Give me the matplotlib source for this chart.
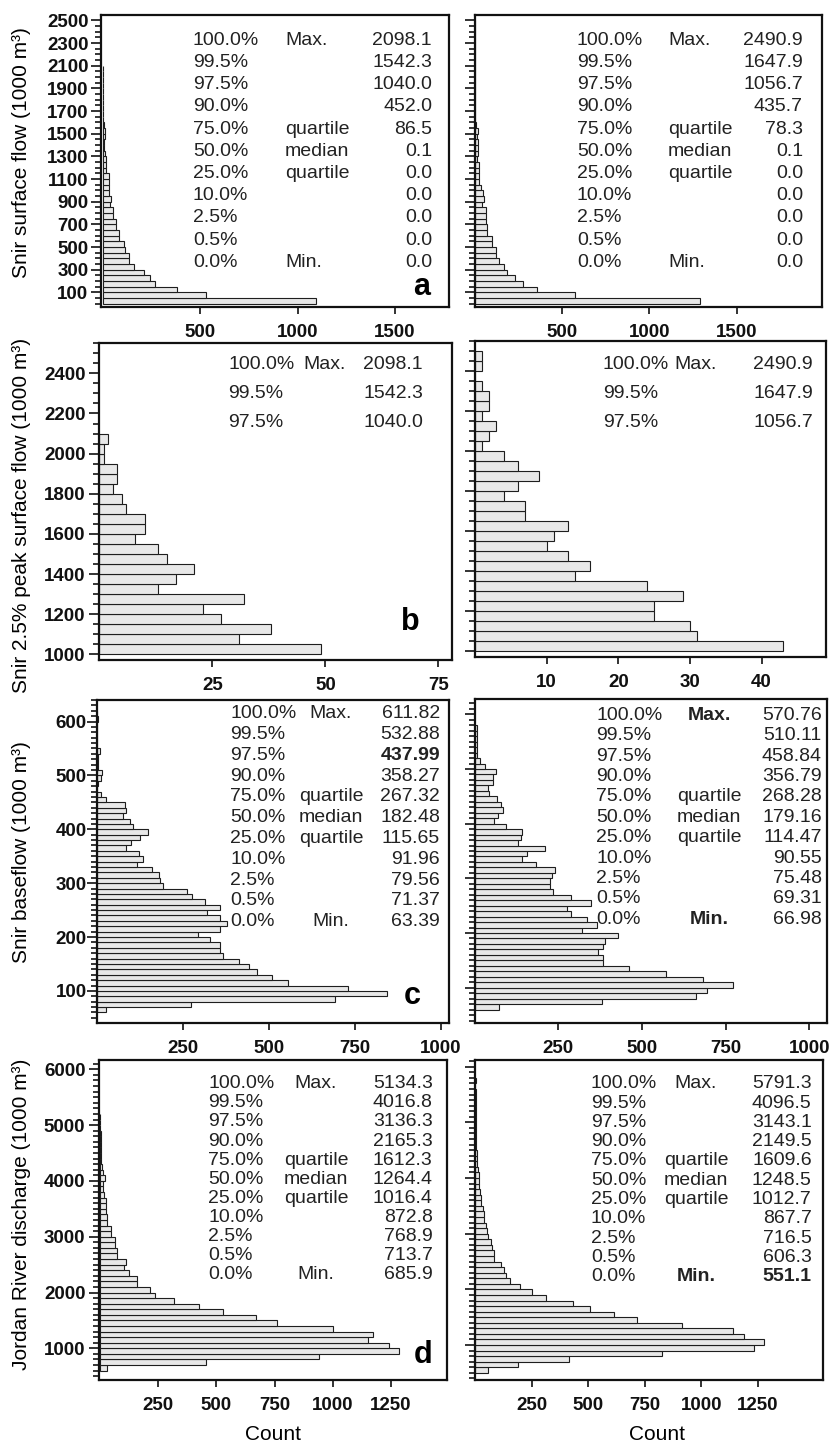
import matplotlib
matplotlib.use('Agg')
import matplotlib.pyplot as plt
from matplotlib.ticker import FixedLocator, MultipleLocator

plt.rcParams['font.family'] = ['Liberation Sans', 'DejaVu Sans']
plt.rcParams['font.weight'] = 'bold'

W, H = 834, 1443

# ---- histogram counts ----
# a: Snir surface flow, bins of 50 from 0
a_left_counts = [1095, 530, 380, 270, 245, 211, 162, 138, 136, 117,
                 108, 86, 86, 69, 69, 52, 52, 40, 44, 35,
                 33, 33, 33, 20, 18, 18, 13, 8, 8, 12,
                 12, 6, 4, 3, 3, 2, 2, 2, 1, 1,
                 1, 1]
a_right_counts = [1290, 572, 357, 274, 229, 183, 168, 137, 118, 118,
                  99, 95, 70, 70, 65, 61, 61, 42, 51, 45,
                  32, 23, 23, 23, 23, 13, 18, 15, 15, 12,
                  15, 3, 2, 2, 1, 1, 1, 1, 1, 0,
                  1, 0, 1, 0, 0, 1, 0, 0, 0, 1]
# b: Snir 2.5% peak surface flow, bins of 50 from 1000
b_left_counts = [49, 31, 38, 27, 23, 32, 13, 17, 21, 15,
                 13, 8, 10, 10, 6, 5, 3, 4, 4, 1,
                 1, 2]
b_right_counts = [43, 31, 30, 25, 25, 29, 24, 14, 16, 13,
                  10, 11, 13, 7, 7, 4, 6, 9, 6, 4,
                  1, 2, 3, 1, 2, 2, 1, 0, 1, 1]
# c: Snir baseflow, bins of 10 from 60
c_left_counts = [28, 274, 692, 844, 730, 556, 510, 467, 443, 415,
                 366, 358, 358, 329, 296, 358, 378, 358, 321, 358,
                 316, 278, 264, 194, 184, 180, 160, 117, 136, 122,
                 87, 99, 126, 150, 107, 97, 78, 87, 84, 29,
                 13, 2, 5, 12, 15, 5, 5, 5, 10, 2,
                 2, 1, 1, 2, 5, 2]
c_right_counts = [74, 380, 661, 695, 773, 681, 571, 461, 385, 385,
                  370, 385, 390, 429, 322, 365, 337, 288, 277, 348,
                  288, 235, 225, 225, 230, 240, 183, 143, 157, 210,
                  129, 138, 143, 93, 59, 69, 86, 79, 66, 44,
                  39, 55, 55, 65, 31, 16, 6, 7, 7, 6,
                  6, 6]
# d: Jordan River discharge, bins of 100 (left from 600, right from 500)
d_left_counts = [28, 457, 941, 1284, 1241, 1149, 1171, 999, 758, 669,
                 529, 425, 319, 236, 216, 158, 158, 124, 101, 111,
                 75, 75, 64, 64, 47, 47, 32, 32, 24, 25,
                 24, 18, 14, 14, 21, 11, 9, 6, 5, 4,
                 4, 3, 3, 2, 2, 1]
d_right_counts = [54, 190, 415, 824, 1234, 1278, 1190, 1141, 912, 717,
                  614, 508, 430, 313, 249, 198, 154, 135, 128, 113,
                  83, 83, 73, 69, 54, 51, 47, 39, 39, 32,
                  24, 24, 20, 17, 17, 17, 13, 8, 6, 5,
                  4, 4, 3, 3, 3, 2, 2, 2, 1, 1,
                  1, 0, 1]

# ---- quantile tables ----
pct_labels = ['100.0%', '99.5%', '97.5%', '90.0%', '75.0%', '50.0%',
              '25.0%', '10.0%', '2.5%', '0.5%', '0.0%']
stat_names = ['Max.', '', '', '', 'quartile', 'median', 'quartile',
              '', '', '', 'Min.']
a_left_q = ['2098.1', '1542.3', '1040.0', '452.0', '86.5', '0.1',
            '0.0', '0.0', '0.0', '0.0', '0.0']
a_right_q = ['2490.9', '1647.9', '1056.7', '435.7', '78.3', '0.1',
             '0.0', '0.0', '0.0', '0.0', '0.0']
c_left_q = ['611.82', '532.88', '437.99', '358.27', '267.32', '182.48',
            '115.65', '91.96', '79.56', '71.37', '63.39']
c_right_q = ['570.76', '510.11', '458.84', '356.79', '268.28', '179.16',
             '114.47', '90.55', '75.48', '69.31', '66.98']
d_left_q = ['5134.3', '4016.8', '3136.3', '2165.3', '1612.3', '1264.4',
            '1016.4', '872.8', '768.9', '713.7', '685.9']
d_right_q = ['5791.3', '4096.5', '3143.1', '2149.5', '1609.6', '1248.5',
             '1012.7', '867.7', '716.5', '606.3', '551.1']

ylabels = ['Snir surface flow (1000 m³)',
           'Snir 2.5% peak surface flow (1000 m³)',
           'Snir baseflow (1000 m³)',
           'Jordan River discharge (1000 m³)']

fig = plt.figure(figsize=(8.34, 14.43), dpi=100)


def px_axes(x0, y0, x1, y1):
    return fig.add_axes([x0 / W, 1 - y1 / H, (x1 - x0) / W, (y1 - y0) / H])


def ftext(x, y, s, **kw):
    kw.setdefault('fontweight', 'normal')
    fig.text(x / W, 1 - y / H, s, **kw)


def draw_hist(box, counts, start, width, xlim, ylim, xticks, ymajor, yminor,
              labels=True, ypad=2):
    ax = px_axes(*box)
    edges = [start + i * width for i in range(len(counts))]
    ax.barh(edges, counts, height=width, align='edge', color='#e8e8e8',
            edgecolor='#1e1e1e', linewidth=0.8)
    ax.set_xlim(*xlim)
    ax.set_ylim(*ylim)
    ax.xaxis.set_major_locator(FixedLocator(xticks))
    ax.yaxis.set_major_locator(FixedLocator(ymajor))
    ax.yaxis.set_minor_locator(MultipleLocator(yminor))
    ax.tick_params(axis='both', which='major', direction='out', width=1.2,
                   labelsize=13.5, colors='#111111')
    ax.tick_params(axis='x', length=4.8, pad=7.5)
    ax.tick_params(axis='y', which='major', length=7, pad=ypad)
    ax.tick_params(axis='y', which='minor', length=4, width=1.1)
    ax.tick_params(labelleft=labels)
    for s in ax.spines.values():
        s.set_linewidth(1.6)
        s.set_color('#111111')
    return ax


# row a
draw_hist((101, 15, 449, 306.7), a_left_counts, 0, 50, (-8, 1777), (-27, 2548),
          [500, 1000, 1500], list(range(100, 2600, 200)), 50, True, 2)
draw_hist((475, 15, 822, 306.7), a_right_counts, 0, 50, (0, 1990), (-27, 2548),
          [500, 1000, 1500], list(range(100, 2600, 200)), 50, False)
# row b
draw_hist((99.3, 343, 452, 660), b_left_counts, 1000, 50, (0, 78), (972, 2551),
          [25, 50, 75], list(range(1000, 2500, 200)), 50, True, 3)
draw_hist((475, 341, 826, 657), b_right_counts, 1000, 50, (0, 49), (972, 2551),
          [10, 20, 30, 40], list(range(1000, 2500, 200)), 50, False)
# row c
draw_hist((96.5, 700, 449, 1022.7), c_left_counts, 60, 10, (0, 1023), (41, 640),
          [250, 500, 750, 1000], list(range(100, 700, 100)), 10, True, 0)
draw_hist((474.6, 699, 827, 1022.7), c_right_counts, 60, 10, (0, 1053), (36, 628),
          [250, 500, 750, 1000], list(range(100, 700, 100)), 10, False)
# row d
draw_hist((99.3, 1060, 447, 1380), d_left_counts, 600, 100, (-3, 1490), (432, 6167),
          [250, 500, 750, 1000, 1250], list(range(1000, 7000, 1000)), 100, True, 3)
draw_hist((475, 1060, 823, 1380), d_right_counts, 500, 100, (-2, 1538), (372, 6120),
          [250, 500, 750, 1000, 1250], list(range(1000, 7000, 1000)), 100, False)

# y axis titles
for yc, lab in zip([153, 515, 852, 1214], ylabels):
    ftext(22, yc, lab, rotation=90, ha='center', va='center', fontsize=15)

# quantile tables: (values, x pct, x name, name align, x value, first row, step, rows, bold cells)
tables = [
    (a_left_q, 193, 285, 'left', 432, 38.3, 22.2, 11, set()),
    (a_right_q, 577, 668, 'left', 803, 38.3, 22.2, 11, set()),
    (a_left_q, 228, 303, 'left', 423, 362.5, 29, 3, set()),
    (a_right_q, 603, 674, 'left', 813, 362.5, 29, 3, set()),
    (c_left_q, 230, 331, 'center', 440, 711.7, 20.8, 11, {('v', 2)}),
    (c_right_q, 596, 709, 'center', 821.7, 713.3, 20.4, 11, {('n', 0), ('n', 10)}),
    (d_left_q, 208, 316, 'center', 432.7, 1081.7, 19.1, 11, set()),
    (d_right_q, 591, 696, 'center', 811.7, 1081.7, 19.3, 11, {('n', 10), ('v', 10)}),
]
for vals, xp, xn, nal, xv, y0, dy, nrows, bold in tables:
    for i in range(nrows):
        yb = y0 + i * dy + 6.5
        ftext(xp, yb, pct_labels[i], ha='left', va='baseline', fontsize=14,
              color='#222222')
        if stat_names[i]:
            ftext(xn, yb, stat_names[i], ha=nal, va='baseline', fontsize=14,
                  color='#222222',
                  fontweight='bold' if ('n', i) in bold else 'normal')
        ftext(xv, yb, vals[i], ha='right', va='baseline', fontsize=14,
              color='#222222',
              fontweight='bold' if ('v', i) in bold else 'normal')

# panel letters
for x, y, s in [(422, 295, 'a'), (410, 630, 'b'), (412, 1004, 'c'), (423, 1363, 'd')]:
    ftext(x, y, s, ha='center', va='baseline', fontsize=22, fontweight='bold')

ftext(273, 1440, 'Count', ha='center', va='baseline', fontsize=15)
ftext(657, 1440, 'Count', ha='center', va='baseline', fontsize=15)

fig.savefig('out.png', dpi=100)
